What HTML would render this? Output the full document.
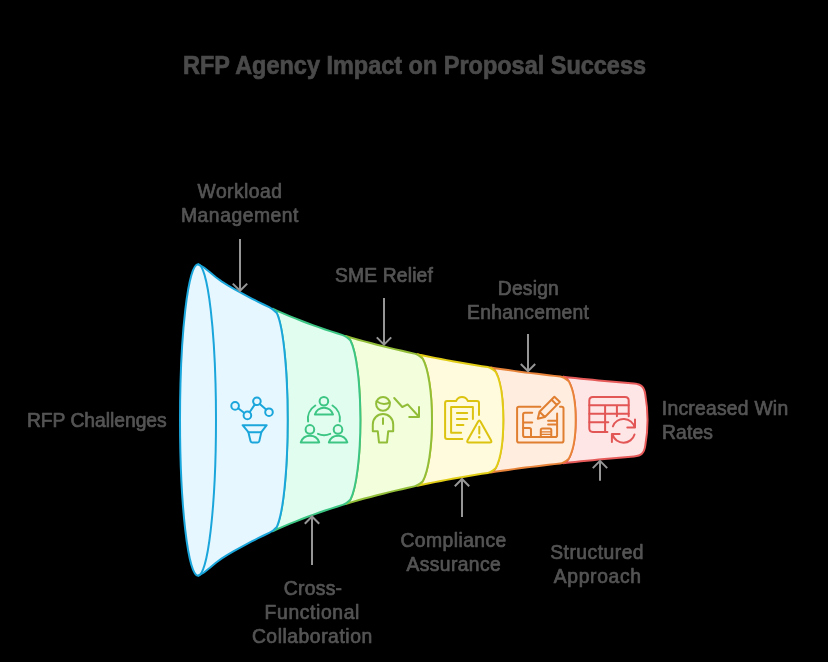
<!DOCTYPE html>
<html><head><meta charset="utf-8"><title>RFP Agency Impact on Proposal Success</title>
<style>
html,body{margin:0;padding:0;background:#000;}
body{width:828px;height:662px;overflow:hidden;position:relative;font-family:"Liberation Sans",sans-serif;}
svg{position:absolute;left:0;top:0;will-change:transform;}
.t{position:absolute;white-space:nowrap;color:#4a4a4a;-webkit-text-stroke:0.7px #4a4a4a;font-weight:bold;font-size:25.5px;line-height:28px;left:182.6px;top:51.2px;letter-spacing:0px;transform:scaleX(0.9203);transform-origin:0 0;}
.l text{font-family:"Liberation Sans",sans-serif;font-size:19.3px;fill:#545454;stroke:#545454;stroke-width:0.7px;stroke-linejoin:round;}
</style></head><body>
<svg width="828" height="662" viewBox="0 0 828 662">
<path d="M563.2 376.84 L569.1 377.47 575 378.09 580.9 378.69 586.8 379.28 592.7 379.85 598.6 380.42 604.5 380.97 610.4 381.51 616.3 382.04 622.2 382.56 628.1 383.07 634 383.57 C641.5 384.27 644.3 387.07 645.3 394.57 C648.2 411 648.2 429 645.3 445.43 C644.3 452.93 641.5 455.73 634 456.43 L628.1 456.93 622.2 457.44 616.3 457.96 610.4 458.49 604.5 459.03 598.6 459.58 592.7 460.15 586.8 460.72 580.9 461.31 575 461.91 569.1 462.53 563.2 463.16 A12.5 43.16 0 0 0 563.2 376.84 Z" fill="#ffe6e6" stroke="#e65a5a" stroke-width="2" stroke-linejoin="round"/>
<path d="M490.7 367.55 L496.49 368.42 502.28 369.26 508.07 370.07 513.87 370.87 519.66 371.64 525.45 372.4 531.24 373.13 537.03 373.84 542.83 374.54 548.62 375.21 554.41 375.87 560.2 376.52 Q563.5 376.88 568.76 381.34 A12.5 43.16 0 0 1 568.76 458.66 Q563.5 463.12 560.2 463.48 L554.41 464.13 548.62 464.79 542.83 465.46 537.03 466.16 531.24 466.87 525.45 467.6 519.66 468.36 513.87 469.13 508.07 469.93 502.28 470.74 496.49 471.58 490.7 472.45 A12.6 52.45 0 0 0 490.7 367.55 Z" fill="#ffede0" stroke="#e8833a" stroke-width="2" stroke-linejoin="round"/>
<path d="M417.4 354.27 L423.26 355.51 429.12 356.71 434.97 357.89 440.83 359.03 446.69 360.14 452.55 361.22 458.41 362.27 464.27 363.29 470.12 364.28 475.98 365.24 481.84 366.18 487.7 367.09 Q491 367.6 495.81 372.05 A12.6 52.45 0 0 1 495.81 467.95 Q491 472.4 487.7 472.91 L481.84 473.82 475.98 474.76 470.12 475.72 464.27 476.71 458.41 477.73 452.55 478.78 446.69 479.86 440.83 480.97 434.97 482.11 429.12 483.29 423.26 484.49 417.4 485.73 A14.6 65.73 0 0 0 417.4 354.27 Z" fill="#fffbdc" stroke="#e0cb15" stroke-width="2" stroke-linejoin="round"/>
<path d="M345.7 336.01 L351.95 337.87 358.19 339.67 364.44 341.41 370.68 343.09 376.93 344.73 383.17 346.32 389.42 347.86 395.66 349.36 401.91 350.82 408.15 352.24 414.4 353.62 Q417.7 354.33 422.71 358.77 A14.6 65.73 0 0 1 422.71 481.23 Q417.7 485.67 414.4 486.38 L408.15 487.76 401.91 489.18 395.66 490.64 389.42 492.14 383.17 493.68 376.93 495.27 370.68 496.91 364.44 498.59 358.19 500.33 351.95 502.13 345.7 503.99 A14.7 83.99 0 0 0 345.7 336.01 Z" fill="#f2fedc" stroke="#92bd39" stroke-width="2" stroke-linejoin="round"/>
<path d="M272.6 308.69 L278.44 311.32 284.28 313.86 290.12 316.31 295.97 318.69 301.81 320.99 307.65 323.21 313.49 325.36 319.33 327.43 325.18 329.44 331.02 331.39 336.86 333.27 342.7 335.1 Q346 336.1 350.45 340.51 A14.7 83.99 0 0 1 350.45 499.49 Q346 503.9 342.7 504.9 L336.86 506.73 331.02 508.61 325.18 510.56 319.33 512.57 313.49 514.64 307.65 516.79 301.81 519.01 295.97 521.31 290.12 523.69 284.28 526.14 278.44 528.68 272.6 531.31 A15.1 111.31 0 0 0 272.6 308.69 Z" fill="#e0fdf0" stroke="#3cc583" stroke-width="2" stroke-linejoin="round"/>
<path d="M198 264.14 L203.97 267.5 209.93 272.25 215.9 277.24 221.87 281.58 227.83 285.29 233.8 288.78 239.77 292.15 245.73 295.41 251.7 298.54 257.67 301.57 263.63 304.49 269.6 307.31 Q272.9 308.83 276.85 313.19 A15.1 111.31 0 0 1 276.85 526.81 Q272.9 531.17 269.6 532.69 L263.63 535.51 257.67 538.43 251.7 541.46 245.73 544.59 239.77 547.85 233.8 551.22 227.83 554.71 221.87 558.42 215.9 562.76 209.93 567.75 203.97 572.5 198 575.86 A18 155.86 0 0 1 198 264.14 Z" fill="#e6f7ff" stroke="#1ba6db" stroke-width="2" stroke-linejoin="round"/>
<path d="M198 264.14 A18 155.86 0 0 1 198 575.86" fill="none" stroke="#1ba6db" stroke-width="2"/>
<path d="M240 239 V290.8" stroke="#969696" stroke-width="2" fill="none"/><path d="M232.8 283.6 L240 290.8 L247.2 283.6" stroke="#969696" stroke-width="2" fill="none" stroke-linejoin="miter"/><path d="M384 298 V344.6" stroke="#969696" stroke-width="2" fill="none"/><path d="M376.8 337.4 L384 344.6 L391.2 337.4" stroke="#969696" stroke-width="2" fill="none" stroke-linejoin="miter"/><path d="M528 334 V371.2" stroke="#969696" stroke-width="2" fill="none"/><path d="M520.8 364.0 L528 371.2 L535.2 364.0" stroke="#969696" stroke-width="2" fill="none" stroke-linejoin="miter"/><path d="M312 565 V516.5" stroke="#969696" stroke-width="2" fill="none"/><path d="M304.8 523.7 L312 516.5 L319.2 523.7" stroke="#969696" stroke-width="2" fill="none" stroke-linejoin="miter"/><path d="M462 517 V479.0" stroke="#969696" stroke-width="2" fill="none"/><path d="M454.8 486.2 L462 479.0 L469.2 486.2" stroke="#969696" stroke-width="2" fill="none" stroke-linejoin="miter"/><path d="M600 480.8 V460.9" stroke="#969696" stroke-width="2" fill="none"/><path d="M592.8 468.1 L600 460.9 L607.2 468.1" stroke="#969696" stroke-width="2" fill="none" stroke-linejoin="miter"/>
<g fill="none" stroke-width="2" stroke-linecap="round" stroke-linejoin="round">
<!-- icon 1: data funnel -->
<g stroke="#1ba6db">
<circle cx="235.1" cy="405.9" r="3.8"/><circle cx="247.4" cy="415.4" r="3.8"/><circle cx="256.9" cy="401.3" r="3.8"/><circle cx="269" cy="412.2" r="3.8"/>
<path d="M238.2 408.3 L244.3 413 M249.6 412.2 L254.7 404.6 M259.8 403.9 L266.1 409.6"/>
<path d="M242.6 425.2 H266.7 L261.3 432.2 H248.4 Z"/>
<path d="M248.4 432.2 L250.5 441.1 Q250.8 442.4 252.1 442.4 H257.7 Q259 442.4 259.3 441.1 L261.3 432.2"/>
</g>
<!-- icon 2: team -->
<g stroke="#3cc583">
<circle cx="323.9" cy="401.3" r="4.3"/>
<path d="M314.9 414.5 A9.45 9.45 0 0 1 333 414.5 Z"/>
<circle cx="309.9" cy="429.4" r="4.3"/>
<path d="M300.8 442.4 A9.7 9.7 0 0 1 319.2 442.4 Z"/>
<circle cx="338" cy="429.4" r="4.3"/>
<path d="M328.9 442.4 A9.7 9.7 0 0 1 347.3 442.4 Z"/>
<path d="M315.3 405.5 A16 16 0 0 0 308.1 421.4 M332.5 405.5 A16 16 0 0 1 339.7 421.4 M318 433.9 A16 16 0 0 0 330.2 433.9"/>
</g>
<!-- icon 3: person + down arrow -->
<g stroke="#92bd39">
<circle cx="383" cy="403.8" r="6.9"/>
<path d="M376.6 401.2 C379.5 403.2 381.5 404 384 404 C386.5 404 388.5 403.4 389.8 402.4"/>
<path d="M372.8 431.3 V424.5 C372.8 418.5 377.4 414 383 414 C388.6 414 393.2 418.5 393.2 424.5 V431.3 H388.2 L387 442.4 H379 L377.8 431.3 Z"/>
<path d="M383 418.2 V424"/>
<path d="M394.2 398 L402.3 407 L407.6 404.4 L419 416.8 M409.2 416.9 H419 V406.9"/>
</g>
<!-- icon 4: clipboard + warning -->
<g stroke="#dcc30f">
<path d="M479 414.9 V402.9 Q479 400.9 477 400.9 H467.9 C466.6 398.5 464.6 397.1 462 397.1 C459.4 397.1 457.4 398.5 456.1 400.9 H447.1 Q445.1 400.9 445.1 402.9 V437 Q445.1 439 447.1 439 H462.3"/>
<path d="M472.9 419 V407 H451.1 V432.8 H461.1"/>
<path d="M456.9 412.9 H467.2 M456.9 419 H467.2 M456.9 424.9 H463.4"/>
<path d="M478 421.7 Q479.3 419.5 480.6 421.7 L491 440.3 Q492.2 442.5 489.8 442.5 H468.8 Q466.4 442.5 467.6 440.3 Z"/>
<path d="M479.3 426.8 V433.4"/>
<circle cx="479.3" cy="437.3" r="0.7" fill="#dcc30f" stroke-width="1.2"/>
</g>
<!-- icon 5: blueprint + pencil -->
<g stroke="#e07f30">
<path d="M540.4 406.8 H518.9 Q517.1 406.8 517.1 408.6 V440.8 Q517.1 442.6 518.9 442.6 H561.7 Q563.5 442.6 563.5 440.8 V408.6 Q563.5 406.8 561.7 406.8 H560"/>
<path d="M532.2 412.7 H524.9 Q523.1 412.7 523.1 414.5 V435.2 Q523.1 437 524.9 437 H555.3 Q557.1 437 557.1 435.2 V413.6"/>
<path d="M523.6 422.6 H532.2 M548.1 420.8 H556.7 M548.1 424.6 H556.7"/>
<path d="M523.1 428.1 H529.4 Q531 428.1 531 429.7 V437"/>
<path d="M540.8 437 V430.1 Q540.8 428.5 542.4 428.5 H549.7 Q551.3 428.5 551.3 430.1 V437"/>
<path d="M541.3 431.9 H550.8 M541.3 434.4 H550.8" stroke-width="1.2"/>
<path d="M539.5 411.8 L554.4 396.8 L559.9 401.9 L544.9 417 L537.8 418.8 Z M539.5 411.8 L544.9 417 M551.6 399.8 L556.9 405"/>
</g>
<!-- icon 6: table + refresh -->
<g stroke="#e25656">
<path d="M628.7 416.3 V400.7 Q628.7 397.1 625.1 397.1 H592.9 Q589.3 397.1 589.3 400.7 V428.3 Q589.3 431.9 592.9 431.9 H607.4"/>
<path d="M589.3 405.2 H628.7 M589.3 413.8 H628.7 M589.3 422.2 H608.3 M605.1 405.2 V431.9 M616.9 405.2 V416.3"/>
<path d="M612.9 426.4 A11.4 11.4 0 0 1 634.6 427.6 M635 419.6 V427.6 H627.3"/>
<path d="M634.5 434.4 A11.4 11.4 0 0 1 612.6 434.6 M619.6 434 H611.9 V442"/>
</g>
</g>

<g class="l">
<text id="s0" x="197.6" y="198.4" letter-spacing="0.463">Workload</text>
<text id="s1" x="181.0" y="222.4" letter-spacing="0.541">Management</text>
<text id="s2" x="335.0" y="282.4" letter-spacing="0.152">SME Relief</text>
<text id="s3" x="497.8" y="295.4" letter-spacing="0.195">Design</text>
<text id="s4" x="467.0" y="319.4" letter-spacing="0.289">Enhancement</text>
<text id="s5" x="26.9" y="427.4" letter-spacing="-0.018">RFP Challenges</text>
<text id="s6" x="661.8" y="415.4" letter-spacing="0.258">Increased Win</text>
<text id="s7" x="662.0" y="439.4" letter-spacing="0.125">Rates</text>
<text id="s8" x="283.8" y="595.4" letter-spacing="0.286">Cross-</text>
<text id="s9" x="264.6" y="619.4" letter-spacing="0.643">Functional</text>
<text id="s10" x="251.9" y="643.4" letter-spacing="0.552">Collaboration</text>
<text id="s11" x="400.5" y="547.4" letter-spacing="0.439">Compliance</text>
<text id="s12" x="406.6" y="571.4" letter-spacing="0.377">Assurance</text>
<text id="s13" x="550.2" y="559.4" letter-spacing="0.495">Structured</text>
<text id="s14" x="553.8" y="583.4" letter-spacing="0.657">Approach</text>
</g>
</svg>
<div class="t" id="title">RFP Agency Impact on Proposal Success</div>
</body></html>
